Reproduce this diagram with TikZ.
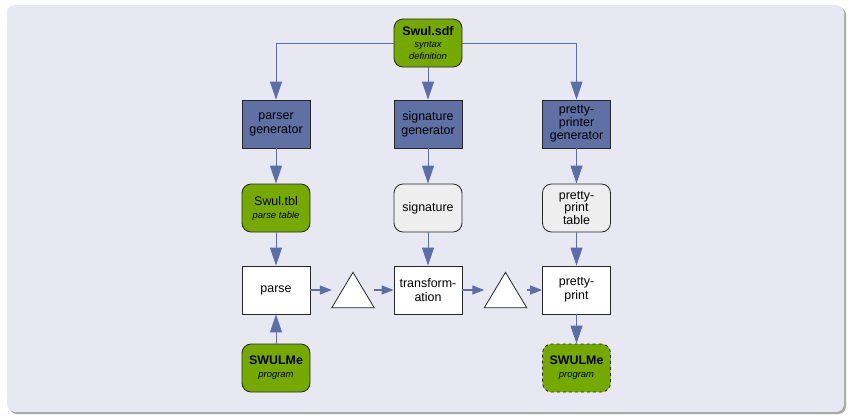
\documentclass[tikz,border=0pt]{standalone}
\usepackage{fontspec}
\setmainfont{Liberation Sans}
\usetikzlibrary{arrows.meta}
\definecolor{bg}{HTML}{E8E8F3}
\definecolor{arr}{HTML}{5B6EA8}
\definecolor{gen}{HTML}{5E70A4}
\definecolor{grn}{HTML}{76A900}
\definecolor{lgr}{HTML}{EEEEEE}
\newcommand\subt[1]{{\fontsize{9.5}{11}\selectfont\itshape #1}}
\begin{document}
\begin{tikzpicture}[x=1bp,y=-1bp,
 box/.style={draw=black!85, line width=0.8bp, minimum width=68bp, minimum height=48bp, inner sep=1bp, align=center, font=\fontsize{12.5}{14}\selectfont},
 genbox/.style={box, fill=gen},
 plainbox/.style={box, fill=white},
 grnbox/.style={box, fill=grn, rounded corners=9bp},
 graybox/.style={box, fill=lgr, rounded corners=9bp},
 tri/.style={minimum width=42bp, minimum height=35bp, inner sep=0},
 big/.style={draw=arr, line width=1bp, -{Triangle[length=18bp,width=12bp]}},
 small/.style={draw=arr, line width=1.2bp, -{Triangle[length=12bp,width=9bp]}}
]
\useasboundingbox (0,0) rectangle (849,415);
\fill[black!35, rounded corners=8bp] (9,7) rectangle (846,414);
\fill[bg, rounded corners=8bp] (7,5) rectangle (844,412);

\node[grnbox] (sdf) at (428,43) {\textbf{Swul.sdf}\\[-1bp]\subt{syntax}\\[-2bp]\subt{definition}};
\node[genbox] (pg) at (276,124) {parser\\generator};
\node[genbox] (sg) at (428,124) {signature\\generator};
\node[genbox] (ppg) at (576.5,124) {pretty-\\[-1bp]printer\\[-1bp]generator};
\node[grnbox] (tbl) at (276,208) {Swul.tbl\\[-1bp]\subt{parse table}};
\node[graybox] (sig) at (428,208) {signature};
\node[graybox] (ppt) at (576.5,208) {pretty-\\[-1bp]print\\[-1bp]table};
\node[plainbox] (parse) at (276,290) {parse};
\node[plainbox] (trans) at (428,290) {transform-\\ation};
\node[plainbox] (pp) at (576.5,290) {pretty-\\print};
\node[grnbox] (prog) at (276,368) {\textbf{SWULMe}\\[-1bp]\subt{program}};
\node[grnbox, dashed] (out) at (576.5,368) {\textbf{SWULMe}\\[-1bp]\subt{program}};
\node[tri] (t1) at (353,290) {};
\node[tri] (t2) at (505.5,290) {};
\draw[fill=white, draw=black!85, line width=0.8bp] (t1.south west) -- (t1.south east) -- (t1.north) -- cycle;
\draw[fill=white, draw=black!85, line width=0.8bp] (t2.south west) -- (t2.south east) -- (t2.north) -- cycle;

\draw[big] (sdf.west) -| (pg.north);
\draw[big] (sdf.south) -- (sg.north);
\draw[big] (sdf.east) -| (ppg.north);
\draw[big] (pg) -- (tbl);
\draw[big] (tbl) -- (parse);
\draw[big] (prog) -- (parse);
\draw[big] (sg) -- (sig);
\draw[big] (sig) -- (trans);
\draw[big] (ppg) -- (ppt);
\draw[big] (ppt) -- (pp);
\draw[big] (pp) -- (out);
\draw[small] (parse.east) -- (t1.west);
\draw[small] (t1.east) -- (trans.west);
\draw[small] (trans.east) -- (t2.west);
\draw[small] (t2.east) -- (pp.west);
\end{tikzpicture}
\end{document}
